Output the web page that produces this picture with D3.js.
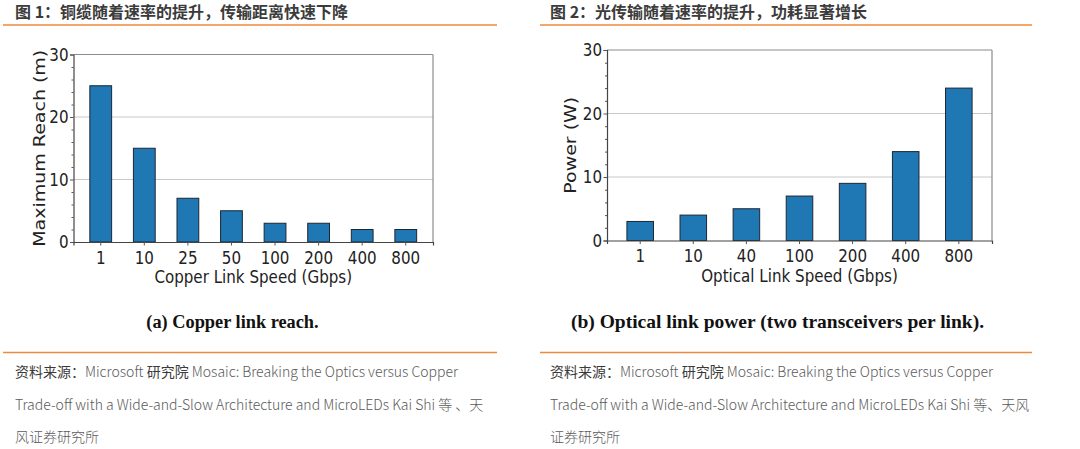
<!DOCTYPE html>
<html>
<head>
<meta charset="utf-8">
<script src="https://cdn.jsdelivr.net/npm/d3@7/dist/d3.min.js"></script>
<style>
  html, body { margin: 0; padding: 0; background: #fff; }
  svg { display: block; }
</style>
</head>
<body>
<svg id="fig" width="1080" height="449"></svg>
<script>
// Copper link reach (m) by link speed
const copperSpeeds = ["1", "10", "25", "50", "100", "200", "400", "800"];
const copperReach = [25, 15, 7, 5, 3, 3, 2, 2];

// Optical link power (W, two transceivers per link) by link speed
const opticalSpeeds = ["1", "10", "40", "100", "200", "400", "800"];
const opticalPower = [3, 4, 5, 7, 9, 14, 24];

// Shared y ticks
const majorTicks = [0, 10, 20, 30];
const minorTicks = [2, 4, 6, 8, 12, 14, 16, 18, 22, 24, 26, 28];
const gridTicks = [10, 20];

const headers = [
  "图 1：铜缆随着速率的提升，传输距离快速下降",
  "图 2：光传输随着速率的提升，功耗显著增长"
];
const captions = [
  "(a) Copper link reach.",
  "(b) Optical link power (two transceivers per link)."
];
const sourceLinesLeft = [
  ["资料来源：", "Microsoft  ", "研究院", " Mosaic: Breaking the Optics versus Copper"],
  ["", "Trade-off with a Wide-and-Slow Architecture and MicroLEDs Kai Shi 等 、天", "", ""],
  ["", "风证券研究所", "", ""]
];
const sourceLinesRight = [
  ["资料来源：", "Microsoft  ", "研究院", " Mosaic: Breaking the Optics versus Copper"],
  ["", "Trade-off with a Wide-and-Slow Architecture and MicroLEDs Kai Shi 等、天风", "", ""],
  ["", "证券研究所", "", ""]
];

const svg = d3.select("#fig");
const ORANGE = "#ef8a3c";
const BLUE = "#1f77b4";
const CHART_FONT = "'DejaVu Sans', sans-serif";
const CJK_FONT = "'Noto Sans CJK SC', 'Noto Sans', sans-serif";
const NARROW = 0.84; // horizontal squeeze of the chart lettering

// ---------- panel frames: headers, rules, source notes ----------
function panelFrame(x0, x1, textX, header, sourceLines) {
  svg.append("text")
    .attr("x", textX).attr("y", 17.5)
    .attr("font-family", CJK_FONT).attr("font-weight", 700)
    .attr("font-size", 16).attr("fill", "#3b3b3b")
    .text(header);
  svg.append("line")
    .attr("x1", x0).attr("x2", x1).attr("y1", 25).attr("y2", 25)
    .attr("stroke", ORANGE).attr("stroke-width", 1.3);
  svg.append("line")
    .attr("x1", x0).attr("x2", x1).attr("y1", 352.5).attr("y2", 352.5)
    .attr("stroke", ORANGE).attr("stroke-width", 1.3);
  const lineYs = [377, 410, 442];
  sourceLines.forEach((parts, i) => {
    const t = svg.append("text")
      .attr("x", textX).attr("y", lineYs[i])
      .attr("font-family", CJK_FONT).attr("font-size", 14)
      .attr("font-weight", 300).attr("fill", "#5a5a5a");
    parts.forEach((p, j) => {
      if (!p) return;
      const s = t.append("tspan").text(p);
      if (j === 0 || j === 2) s.attr("fill", "#3a3a3a").attr("font-weight", 400);
    });
  });
}
panelFrame(3, 497, 15, headers[0], sourceLinesLeft);
panelFrame(540, 1032, 550, headers[1], sourceLinesRight);

// ---------- bar chart panel ----------
function barPanel(opts) {
  const { left, right, top, bottom, cats, vals, yLabel, yLabelX, xLabel, xLabelY,
          caption, captionX, captionSqueeze } = opts;
  const g = svg.append("g");

  const x = d3.scaleBand().domain(cats).range([left, right])
    .paddingInner(0.5).paddingOuter(0.375);
  const y = d3.scaleLinear().domain([0, 30]).range([bottom, top]);

  // gridlines
  g.append("g").selectAll("line").data(gridTicks).join("line")
    .attr("x1", left).attr("x2", right)
    .attr("y1", d => y(d)).attr("y2", d => y(d))
    .attr("stroke", "#c8c8c8").attr("stroke-width", 1);

  // bars
  g.append("g").selectAll("rect").data(vals).join("rect")
    .attr("x", (d, i) => x(cats[i]))
    .attr("width", x.bandwidth())
    .attr("y", d => y(d))
    .attr("height", d => y(0) - y(d))
    .attr("fill", BLUE)
    .attr("stroke", "#1d2733").attr("stroke-width", 1);

  // frame: top and right spines lighter
  g.append("line").attr("x1", left).attr("x2", right).attr("y1", top).attr("y2", top)
    .attr("stroke", "#8c8c8c").attr("stroke-width", 1.2);
  g.append("line").attr("x1", right).attr("x2", right).attr("y1", top).attr("y2", bottom)
    .attr("stroke", "#8c8c8c").attr("stroke-width", 1.2);

  // y axis: major ticks with labels
  const yAxis = g.append("g").attr("transform", `translate(${left},0)`)
    .call(d3.axisLeft(y).tickValues(majorTicks).tickSize(3.5).tickPadding(1.5).tickFormat(d3.format("d")));
  // y axis: minor ticks
  g.append("g").attr("transform", `translate(${left},0)`)
    .call(d3.axisLeft(y).tickValues(minorTicks).tickSize(2).tickFormat(""))
    .call(a => a.select(".domain").remove());

  // x axis
  const xAxis = g.append("g").attr("transform", `translate(0,${bottom})`)
    .call(d3.axisBottom(x).tickSize(3.5).tickPadding(5.5));

  [yAxis, xAxis].forEach(a => {
    a.select(".domain").attr("stroke", "#444").attr("stroke-width", 1.2);
    a.selectAll("text").attr("font-family", CHART_FONT).attr("font-size", 18).attr("fill", "#222");
  });
  // narrow lettering: squeeze each label around its anchor
  xAxis.selectAll(".tick text").attr("transform", `scale(${NARROW},1)`);
  yAxis.selectAll(".tick text").each(function () {
    const t = d3.select(this);
    const tx = +t.attr("x");
    t.attr("x", tx / NARROW).attr("transform", `scale(${NARROW},1)`);
  });
  g.selectAll(".tick line").attr("stroke", "#555");

  // axis titles
  g.append("text")
    .attr("transform", `translate(${yLabelX},${(top + bottom) / 2}) scale(${NARROW},1) rotate(-90)`)
    .attr("text-anchor", "middle")
    .attr("font-family", CHART_FONT).attr("font-size", 19).attr("fill", "#222")
    .text(yLabel);
  g.append("text")
    .attr("transform", `translate(${(left + right) / 2},${xLabelY}) scale(${NARROW},1)`)
    .attr("text-anchor", "middle")
    .attr("font-family", CHART_FONT).attr("font-size", 18).attr("fill", "#222")
    .text(xLabel);

  // caption
  g.append("text")
    .attr("transform", `translate(${captionX},328) scale(${captionSqueeze},1)`)
    .attr("text-anchor", "middle")
    .attr("font-family", "'Liberation Serif', 'Times New Roman', serif")
    .attr("font-weight", 700).attr("font-size", 19.5).attr("fill", "#111")
    .text(caption);
}

barPanel({
  left: 73.5, right: 433, top: 54.5, bottom: 242,
  cats: copperSpeeds, vals: copperReach,
  yLabel: "Maximum Reach (m)", yLabelX: 45,
  xLabel: "Copper Link Speed (Gbps)", xLabelY: 283,
  caption: captions[0], captionX: 232.5, captionSqueeze: 0.94
});

barPanel({
  left: 607, right: 992, top: 50, bottom: 240.5,
  cats: opticalSpeeds, vals: opticalPower,
  yLabel: "Power (W)", yLabelX: 576,
  xLabel: "Optical Link Speed (Gbps)", xLabelY: 282,
  caption: captions[1], captionX: 777.5, captionSqueeze: 1
});
</script>
</body>
</html>
